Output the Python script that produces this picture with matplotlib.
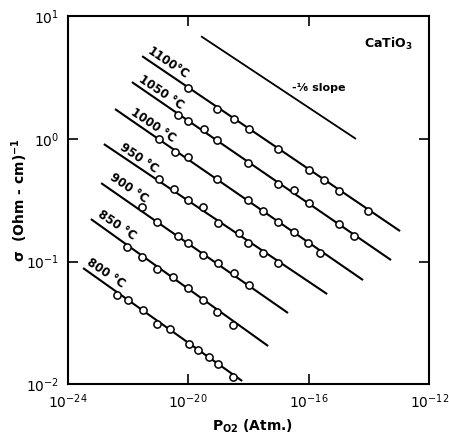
import matplotlib
matplotlib.use("Agg")
import matplotlib.pyplot as plt
import numpy as np

# ---- data (log10 values) ----
temps = ["1100°C", "1050 °C", "1000 °C", "950 °C", "900 °C", "850 °C", "800 °C"]

# fitted lines: start/end log10(P_O2), start/end log10(sigma)
line_logP_start = [-21.53, -21.87, -22.43, -22.80, -22.89, -23.23, -23.49]
line_logP_end = [-12.97, -13.27, -14.20, -15.39, -16.69, -17.35, -18.21]
line_logS_start = [0.673, 0.462, 0.242, -0.043, -0.361, -0.654, -1.053]
line_logS_end = [-0.752, -0.988, -1.151, -1.265, -1.419, -1.688, -1.973]

# measured points
pts_logP = [
    [-20.0, -19.03, -18.48, -17.98, -17.02, -15.99, -15.49, -15.0, -14.02],
    [-20.33, -20.0, -19.48, -19.03, -18.02, -17.02, -16.49, -15.99, -15.0, -14.5],
    [-20.97, -20.44, -20.0, -19.05, -18.01, -17.51, -17.01, -16.49, -16.01, -15.63],
    [-20.97, -20.47, -20.0, -19.5, -19.0, -18.31, -18.03, -17.51, -17.02],
    [-21.54, -21.03, -20.33, -20.02, -19.5, -19.0, -18.48, -17.97],
    [-22.04, -21.52, -21.03, -20.5, -20.0, -19.5, -19.03, -18.5],
    [-22.37, -22.01, -21.51, -21.03, -20.6, -19.97, -19.69, -19.31, -19.0, -18.52],
]
pts_logS = [
    [0.410, 0.239, 0.160, 0.083, -0.080, -0.255, -0.332, -0.426, -0.585],
    [0.193, 0.147, 0.077, -0.007, -0.198, -0.369, -0.418, -0.524, -0.695, -0.792],
    [-0.005, -0.106, -0.147, -0.331, -0.499, -0.586, -0.676, -0.757, -0.847, -0.928],
    [-0.331, -0.412, -0.499, -0.556, -0.684, -0.765, -0.847, -0.928, -1.012],
    [-0.556, -0.676, -0.792, -0.852, -0.947, -1.015, -1.096, -1.191],
    [-0.879, -0.966, -1.064, -1.129, -1.218, -1.314, -1.409, -1.517],
    [-1.273, -1.314, -1.395, -1.509, -1.548, -1.673, -1.721, -1.778, -1.832, -1.938],
]

# -1/6 slope reference line
slope_logP = [-19.55, -14.46]
slope_logS = [0.831, 0.003]

x_ticks = [1e-24, 1e-20, 1e-16, 1e-12]
x_ticklabels = [r"$10^{-24}$", r"$10^{-20}$", r"$10^{-16}$", r"$10^{-12}$"]
y_ticks = [1e-2, 1e-1, 1e0, 1e1]
y_ticklabels = [r"$10^{-2}$", r"$10^{-1}$", r"$10^{0}$", r"$10^{1}$"]

# label offsets (pixels) from line start
label_offsets = [(26, -7), (29, -10), (38, -16), (35, -14), (28, -5), (26, -6), (23, -5)]

plt.rcParams["font.family"] = ["DejaVu Sans"]
plt.rcParams["mathtext.default"] = "regular"

fig = plt.figure(figsize=(4.49, 4.34), dpi=100)
ax = fig.add_axes([0.1508, 0.1145, 0.8054, 0.8486])
ax.set_xscale("log")
ax.set_yscale("log")
ax.set_xlim(1e-24, 1e-12)
ax.set_ylim(1e-2, 1e1)

for i, t in enumerate(temps):
    xs = [10 ** line_logP_start[i], 10 ** line_logP_end[i]]
    ys = [10 ** line_logS_start[i], 10 ** line_logS_end[i]]
    ax.plot(xs, ys, color="black", lw=1.5, solid_capstyle="butt", zorder=2)
    ax.plot(10 ** np.array(pts_logP[i]), 10 ** np.array(pts_logS[i]), "o",
            ms=5.2, mfc="white", mec="black", mew=1.1, zorder=3)
    ax.annotate(t, xy=(xs[0], ys[0]), xytext=label_offsets[i],
                textcoords="offset pixels", rotation=-34, rotation_mode="anchor",
                ha="center", va="center", fontsize=8.5, fontweight="bold")

ax.plot(10 ** np.array(slope_logP), 10 ** np.array(slope_logS), color="black", lw=1.3)
ax.text(10 ** -16.56, 10 ** 0.413, "-¹⁄₆ slope", fontsize=8, fontweight="bold",
        ha="left", va="center")
ax.text(10 ** -12.57, 10 ** 0.77, r"CaTiO$_3$", fontsize=9, fontweight="bold",
        ha="right", va="center")

ax.minorticks_off()
ax.set_xticks(x_ticks)
ax.set_xticklabels(x_ticklabels, fontsize=10)
ax.set_yticks(y_ticks)
ax.set_yticklabels(y_ticklabels, fontsize=10)
ax.tick_params(which="both", direction="in", top=True, right=True,
               length=7, width=1.2, pad=6)
# only the interior ticks are drawn in the original
xt = ax.xaxis.get_major_ticks()
for k in (0, len(xt) - 1):
    xt[k].tick1line.set_visible(False)
    xt[k].tick2line.set_visible(False)
yt = ax.yaxis.get_major_ticks()
for k in (0, len(yt) - 1):
    yt[k].tick1line.set_visible(False)
    yt[k].tick2line.set_visible(False)

for s in ax.spines.values():
    s.set_linewidth(1.5)

fig.text(253 / 449, 1 - 426 / 434, r"P$_{O2}$ (Atm.)", fontsize=10,
         fontweight="bold", ha="center", va="center")
fig.text(20 / 449, 1 - 200 / 434, r"σ  (Ohm - cm)$^{-1}$", fontsize=10,
         fontweight="bold", ha="center", va="center", rotation=90)

fig.savefig("out.png", dpi=100)
